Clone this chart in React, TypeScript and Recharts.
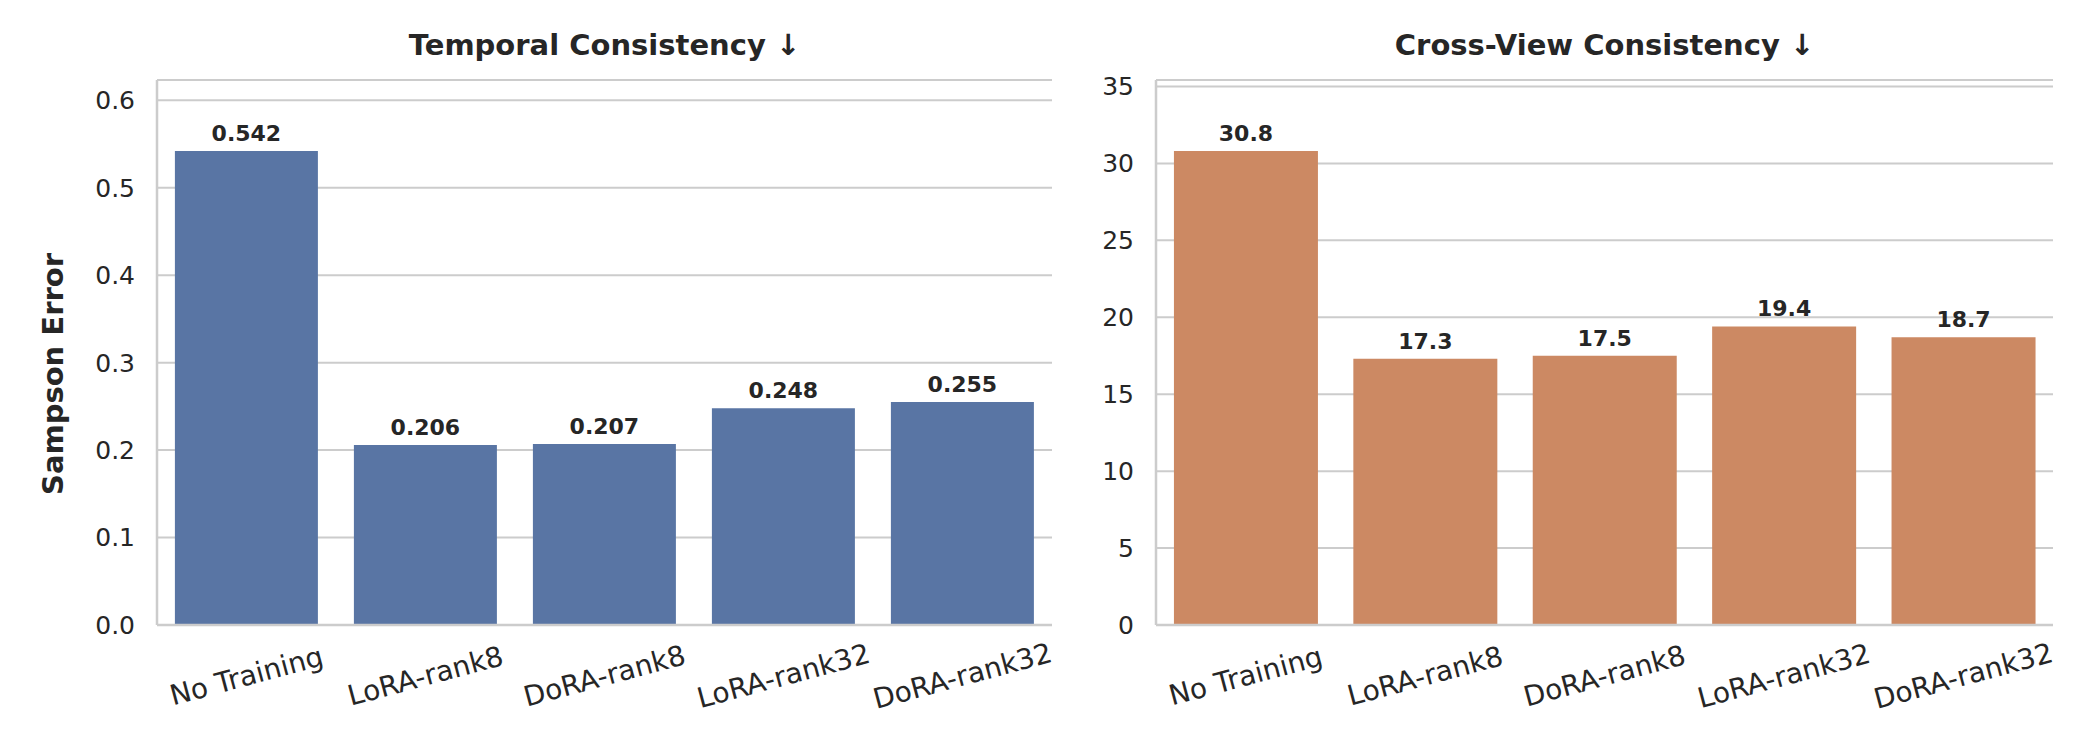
import { Bar, BarChart, CartesianGrid, LabelList, XAxis, YAxis } from "recharts";

const categories = ["No Training", "LoRA-rank8", "DoRA-rank8", "LoRA-rank32", "DoRA-rank32"];
const temporalErrors = [0.542, 0.206, 0.207, 0.248, 0.255];
const crossViewErrors = [30.8, 17.3, 17.5, 19.4, 18.7];
const temporalTicks = [0, 0.1, 0.2, 0.3, 0.4, 0.5, 0.6];
const crossViewTicks = [0, 5, 10, 15, 20, 25, 30, 35];

const FONT = "DejaVu Sans";
const INK = "#262626";
const GRID = "#cccccc";

function AngledTick({ x, y, payload }: any) {
  return (
    <g transform={`translate(${x},${y + 51})`}>
      <text
        transform="rotate(-15)"
        textAnchor="middle"
        dominantBaseline="central"
        fill={INK}
        fontSize={28}
        fontFamily={FONT}
      >
        {payload.value}
      </text>
    </g>
  );
}

function Panel({
  values,
  ticks,
  top,
  color,
  digits,
  tickDigits,
  width,
  yWidth,
  right,
}: {
  values: number[];
  ticks: number[];
  top: number;
  color: string;
  digits: number;
  tickDigits: number;
  width: number;
  yWidth: number;
  right: number;
}) {
  const data = categories.map((name, i) => ({ name, value: values[i] }));
  return (
    <BarChart
      width={width}
      height={750}
      data={data}
      margin={{ top: 80, right, bottom: 0, left: 0 }}
      barCategoryGap="10%"
      style={{ fontFamily: FONT }}
    >
      <CartesianGrid vertical={false} stroke={GRID} strokeWidth={2} />
      <XAxis
        dataKey="name"
        height={125}
        tickLine={false}
        tickSize={0}
        tickMargin={0}
        interval={0}
        axisLine={{ stroke: GRID, strokeWidth: 2.5 }}
        tick={<AngledTick />}
      />
      <XAxis
        xAxisId="top"
        dataKey="name"
        orientation="top"
        height={0}
        tick={false}
        tickLine={false}
        axisLine={{ stroke: GRID, strokeWidth: 2.5 }}
      />
      <YAxis
        type="number"
        domain={[0, top]}
        ticks={ticks}
        width={yWidth}
        tickLine={false}
        tickSize={0}
        tickMargin={22}
        axisLine={{ stroke: GRID, strokeWidth: 2.5 }}
        tick={{ fill: INK, fontSize: 25, fontFamily: FONT }}
        tickFormatter={(v: number) => v.toFixed(tickDigits)}
      />
      <YAxis
        yAxisId="right"
        orientation="right"
        width={0}
        tick={false}
        tickLine={false}
        axisLine={{ stroke: GRID, strokeWidth: 2.5 }}
      />
      <Bar dataKey="value" fill={color} isAnimationActive={false}>
        <LabelList
          dataKey="value"
          position="top"
          offset={10}
          formatter={(v: number) => v.toFixed(digits)}
          style={{ fill: INK, fontSize: 22, fontWeight: 700, fontFamily: FONT }}
        />
      </Bar>
    </BarChart>
  );
}

export default function App() {
  return (
    <div
      style={{
        position: "absolute",
        left: 0,
        top: 0,
        width: 2100,
        height: 750,
        background: "#ffffff",
        fontFamily: FONT,
      }}
    >
      <div style={{ position: "absolute", left: 0, top: 0 }}>
        <Panel
          values={temporalErrors}
          ticks={temporalTicks}
          top={0.6233}
          color="#5975a4"
          digits={3}
          tickDigits={1}
          width={1100}
          yWidth={157}
          right={48}
        />
      </div>
      <div style={{ position: "absolute", left: 1100, top: 0 }}>
        <Panel
          values={crossViewErrors}
          ticks={crossViewTicks}
          top={35.42}
          color="#cc8963"
          digits={1}
          tickDigits={0}
          width={1000}
          yWidth={56}
          right={47}
        />
      </div>
      <svg
        width={2100}
        height={750}
        style={{ position: "absolute", left: 0, top: 0, pointerEvents: "none" }}
      >
        <text x={604.5} y={55} textAnchor="middle" fontSize={29} fontWeight={700} fill={INK} fontFamily={FONT}>
          Temporal Consistency ↓
        </text>
        <text x={1604.5} y={55} textAnchor="middle" fontSize={29} fontWeight={700} fill={INK} fontFamily={FONT}>
          Cross-View Consistency ↓
        </text>
        <text
          transform="translate(53,374) rotate(-90)"
          textAnchor="middle"
          dominantBaseline="central"
          fontSize={29}
          fontWeight={700}
          fill={INK}
          fontFamily={FONT}
        >
          Sampson Error
        </text>
      </svg>
    </div>
  );
}
